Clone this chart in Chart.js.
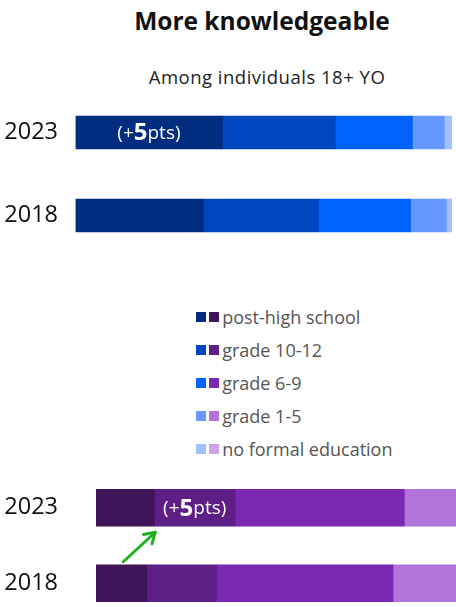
<!DOCTYPE html>
<html>
<head>
<meta charset="utf-8">
<script src="https://cdn.jsdelivr.net/npm/chart.js@4.4.1/dist/chart.umd.min.js"></script>
<style>
    html, body { margin: 0; padding: 0; width: 456px; height: 607px; overflow: hidden; background: #fff; }
    body { position: relative; font-family: "Open Sans", Lato, sans-serif; }
    .title { position: absolute; left: 62px; width: 400px; top: 4px; text-align: center; font-size: 24.5px; font-weight: bold; color: #111; }
    .subtitle { position: absolute; left: 67px; width: 400px; top: 64px; text-align: center; font-size: 18.5px; letter-spacing: 0.5px; color: #222; }
    #topChart { position: absolute; left: 0; top: 91px; }
    #bottomChart { position: absolute; left: 0; top: 470px; }
    #legend { position: absolute; left: 196px; top: 300px; }
    .legend-row { height: 33.2px; display: flex; align-items: center; font-size: 18px; color: #555; }
    .legend-row .sq { width: 10px; height: 10px; margin-right: 2.6px; }
    .legend-row span.txt { margin-left: 1px; }
</style>
</head>
<body>
<div class="title">More knowledgeable</div>
<div class="subtitle">Among individuals 18+ YO</div>
<canvas id="topChart" width="456" height="166"></canvas>
<div id="legend"></div>
<canvas id="bottomChart" width="476" height="151"></canvas>

<script>
// Years shown on each chart
const years = ['2023', '2018'];

// Education levels, from highest to lowest
const levels = ['post-high school', 'grade 10-12', 'grade 6-9', 'grade 1-5', 'no formal education'];

// Share of individuals (%) per level, upper (blue) chart
const blue2023 = [39, 30, 20.5, 8.5, 2];
const blue2018 = [34, 30.5, 24.5, 9.5, 1.5];

// Share of individuals (%) per level, lower (purple) chart
const purple2023 = [15.5, 21.5, 45, 15.5, 2.5];
const purple2018 = [13.5, 18.5, 47, 18.5, 2.5];

const blueColors = ['#002d80', '#0047bf', '#0062ff', '#6699ff', '#a3c0ff'];
const purpleColors = ['#3e1558', '#5d1e86', '#7b28b2', '#b274db', '#cfa3ea'];

const FONT = '"Open Sans", Lato, sans-serif';

// Draws the "(+Npts)" change label inside a segment of the 2023 bar.
// The number is the gain of the cumulative share up to that segment.
const gainLabel = {
    id: 'gainLabel',
    afterDatasetsDraw(chart, args, opts) {
        const seg = opts.segment;
        const ds = chart.data.datasets;
        let now = 0, before = 0;
        for (let i = 0; i <= seg; i++) {
            now += ds[i].data[0];
            before += ds[i].data[1];
        }
        const gain = Math.round(now - before);
        const el = chart.getDatasetMeta(seg).data[0];
        const cx = (el.x + el.base) / 2;
        const cy = el.y + 1;

        const parts = [
            { text: '(+', font: '19px ' + FONT },
            { text: String(gain), font: 'bold 24px ' + FONT },
            { text: 'pts)', font: '19px ' + FONT }
        ];
        const ctx = chart.ctx;
        ctx.save();
        ctx.fillStyle = '#ffffff';
        ctx.textBaseline = 'middle';
        let total = 0;
        parts.forEach(p => { ctx.font = p.font; p.w = ctx.measureText(p.text).width; total += p.w; });
        let x = cx - total / 2;
        parts.forEach(p => {
            ctx.font = p.font;
            ctx.fillText(p.text, x, cy);
            x += p.w;
        });
        ctx.restore();
    }
};

// Green arrow from the 2018 bar up to the gain segment of the 2023 bar
const gainArrow = {
    id: 'gainArrow',
    afterDatasetsDraw(chart, args, opts) {
        if (!opts.show) return;
        const seg = chart.getDatasetMeta(opts.segment).data;
        const top = seg[0], low = seg[1];
        const hx = top.base + 1, hy = top.y + top.height / 2 + 6;
        const tx = hx - 32, ty = low.y - low.height / 2 - 3;
        const ang = Math.atan2(hy - ty, hx - tx);
        const ctx = chart.ctx;
        ctx.save();
        ctx.strokeStyle = '#20b020';
        ctx.lineWidth = 3;
        ctx.lineCap = 'round';
        ctx.lineJoin = 'round';
        ctx.beginPath();
        ctx.moveTo(tx, ty);
        ctx.lineTo(hx, hy);
        ctx.stroke();
        ctx.beginPath();
        ctx.moveTo(hx - 12 * Math.cos(ang - 0.55), hy - 12 * Math.sin(ang - 0.55));
        ctx.lineTo(hx, hy);
        ctx.lineTo(hx - 12 * Math.cos(ang + 0.55), hy - 12 * Math.sin(ang + 0.55));
        ctx.stroke();
        ctx.restore();
    }
};

function buildChart(id, d2023, d2018, colors, cfg) {
    const datasets = levels.map((lvl, i) => ({
        label: lvl,
        data: [d2023[i], d2018[i]],
        backgroundColor: colors[i],
        borderWidth: 0,
        barThickness: cfg.thickness
    }));
    return new Chart(document.getElementById(id), {
        type: 'bar',
        data: { labels: years, datasets: datasets },
        plugins: [gainLabel, gainArrow],
        options: {
            indexAxis: 'y',
            responsive: false,
            animation: false,
            layout: { padding: { right: 4 } },
            plugins: {
                legend: { display: false },
                tooltip: { enabled: false },
                gainLabel: { segment: cfg.labelSegment },
                gainArrow: { show: cfg.arrow, segment: cfg.labelSegment }
            },
            scales: {
                x: { stacked: true, min: 0, max: 100, display: false },
                y: {
                    stacked: true,
                    grid: { display: false, drawTicks: false },
                    border: { display: false },
                    ticks: {
                        color: '#111',
                        font: { family: FONT, size: 23.5 },
                        padding: cfg.left - 58
                    },
                    afterFit(scale) {
                        // fixed gutter for the year labels; no extra vertical padding
                        scale.width = cfg.left;
                        scale.paddingTop = 0;
                        scale.paddingBottom = 0;
                    }
                }
            }
        }
    });
}

buildChart('topChart', blue2023, blue2018, blueColors, { thickness: 33, left: 75.5, labelSegment: 0, arrow: false });
buildChart('bottomChart', purple2023, purple2018, purpleColors, { thickness: 37, left: 96, labelSegment: 1, arrow: true });

// Shared legend: one blue and one purple swatch per level
const legend = document.getElementById('legend');
levels.forEach((lvl, i) => {
    const row = document.createElement('div');
    row.className = 'legend-row';
    row.innerHTML = `
        <div class="sq" style="background:${blueColors[i]}"></div>
        <div class="sq" style="background:${purpleColors[i]}"></div>
        <span class="txt">${lvl}</span>
    `;
    legend.appendChild(row);
});
</script>
</body>
</html>
